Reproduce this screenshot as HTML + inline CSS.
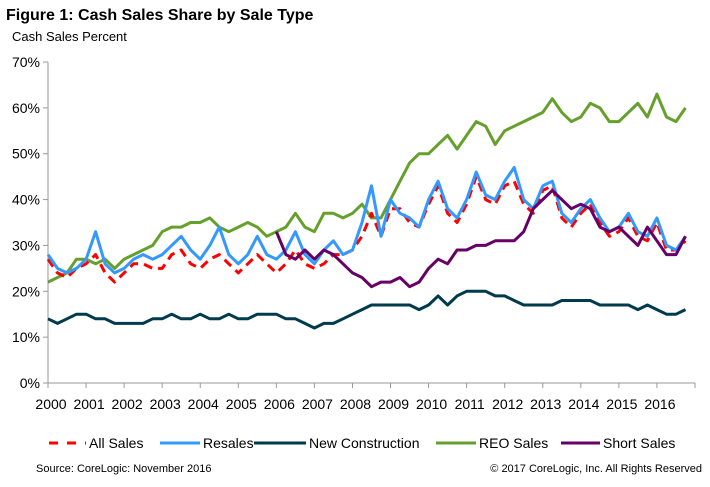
<!DOCTYPE html>
<html><head><meta charset="utf-8"><style>
body{margin:0;background:#fff;font-family:"Liberation Sans",Arial,sans-serif;}
svg text{font-family:"Liberation Sans",Arial,sans-serif;}
</style></head><body>
<svg id="chart" width="710" height="482" viewBox="0 0 710 482">
<text x="6" y="20" font-size="16" font-weight="bold" fill="#000">Figure 1: Cash Sales Share by Sale Type</text>
<text x="12" y="41" font-size="13" fill="#000">Cash Sales Percent</text>
<g id="yaxis"></g>
<g id="xaxis"></g>
<g id="series"></g>
<g id="legend"></g>
<text x="36" y="472" font-size="11" fill="#000">Source: CoreLogic: November  2016</text>
<text x="702" y="472" font-size="11" fill="#000" text-anchor="end">© 2017 CoreLogic, Inc. All Rights Reserved</text>
</svg>
<script>
const yTicks=[0,10,20,30,40,50,60,70];
const xYears=[2000,2001,2002,2003,2004,2005,2006,2007,2008,2009,2010,2011,2012,2013,2014,2015,2016];
const allSales=[27,24,23,25,26,28,24,22,24,26,26,25,25,28,29,26,25,27,28,26,24,26,28,26,24,26,29,26,25,26,28,28,29,32,37,32,38,38,35,34,39,43,37,35,39,45,40,39,43,44,39,37,42,43,36,34,37,39,35,32,33,36,32,31,35,29,29,31];
const resales=[28,25,24,25,27,33,26,24,25,27,28,27,28,30,32,29,27,30,34,28,26,28,32,28,27,29,33,28,26,29,31,28,29,35,43,32,40,37,36,34,40,44,38,36,40,46,41,40,44,47,40,38,43,44,37,35,38,40,36,33,34,37,33,32,36,30,29,32];
const newConstruction=[14,13,14,15,15,14,14,13,13,13,13,14,14,15,14,14,15,14,14,15,14,14,15,15,15,14,14,13,12,13,13,14,15,16,17,17,17,17,17,16,17,19,17,19,20,20,20,19,19,18,17,17,17,17,18,18,18,18,17,17,17,17,16,17,16,15,15,16];
const reoSales=[22,23,24,27,27,26,27,25,27,28,29,30,33,34,34,35,35,36,34,33,34,35,34,32,33,34,37,34,33,37,37,36,37,39,36,36,40,44,48,50,50,52,54,51,54,57,56,52,55,56,57,58,59,62,59,57,58,61,60,57,57,59,61,58,63,58,57,60];
const shortSales=[null,null,null,null,null,null,null,null,null,null,null,null,null,null,null,null,null,null,null,null,null,null,null,null,33,28,27,29,27,29,28,26,24,23,21,22,22,23,21,22,25,27,26,29,29,30,30,31,31,31,33,38,40,42,40,38,39,38,34,33,34,32,30,34,31,28,28,32];
const seriesNames=["All Sales","Resales","New Construction","REO Sales","Short Sales"];
const NS="http://www.w3.org/2000/svg";
const X0=48,X1=695,Y0=383,Y1=62;
function xs(t){return X0+(t-2000)/17*(X1-X0);}
function ys(v){return Y0-v/70*(Y0-Y1);}
function mk(tag,attrs,parent){const e=document.createElementNS(NS,tag);for(const k in attrs)e.setAttribute(k,attrs[k]);parent.appendChild(e);return e;}
const yax=document.getElementById('yaxis');
let l=mk('line',{x1:X0,y1:Y1,x2:X0,y2:Y0,stroke:'#999','stroke-width':1},yax);


yTicks.forEach(v=>{
 const t=mk('line',{x1:X0-5,y1:ys(v),x2:X0,y2:ys(v),stroke:'#999'},yax);
 
 
 const tx=mk('text',{x:X0-8,y:ys(v)+5,'font-size':14,'text-anchor':'end',fill:'#000'},yax);
 tx.textContent=v+'%';
 
 
});
const xax=document.getElementById('xaxis');
l=mk('line',{x1:X0,y1:Y0,x2:X1,y2:Y0,stroke:'#999','stroke-width':1},xax);


for(let y=2000;y<=2017;y++){
 const t=mk('line',{x1:xs(y),y1:Y0,x2:xs(y),y2:Y0+5,stroke:'#999'},xax);
 
 
}
xYears.forEach(y=>{
 const tx=mk('text',{x:xs(y)+3,y:409,'font-size':14,'text-anchor':'middle',fill:'#000'},xax);
 tx.textContent=String(y);
 
 
});
const sg=document.getElementById('series');
function draw(arr,color,dash,name){
 let d='',pen=false;
 arr.forEach((v,i)=>{if(v===null){pen=false;return;}d+=(pen?'L':'M')+xs(2000+i/4).toFixed(1)+','+ys(v).toFixed(1);pen=true;});
 const p=mk('path',{d:d,fill:'none',stroke:color,'stroke-width':3,'stroke-linejoin':'round'},sg);
 if(dash)p.setAttribute('stroke-dasharray',dash);
 
 
}
const colors=["#ff0000","#3399ff","#003a4d","#66a02c","#660066"];
const dashes=["9,6",null,null,null,null];
draw(reoSales,colors[3],null,'reo-sales-line');
draw(allSales,colors[0],dashes[0],'all-sales-line');
draw(resales,colors[1],null,'resales-line');
draw(newConstruction,colors[2],null,'new-construction-line');
draw(shortSales,colors[4],null,'short-sales-line');
const lg=document.getElementById('legend');
const lx=[49,160,254,436,561];
const lw=[37,40,52,40,39];
seriesNames.forEach((n,i)=>{
 const ln=mk('line',{x1:lx[i],y1:443,x2:lx[i]+lw[i],y2:443,stroke:colors[i],'stroke-width':3},lg);
 if(dashes[i])ln.setAttribute('stroke-dasharray','9,9');
 
 
 const t=mk('text',{x:lx[i]+lw[i]+3,y:448,'font-size':14,fill:'#000'},lg);
 t.textContent=n;
 
 
});
</script>
</body></html>
